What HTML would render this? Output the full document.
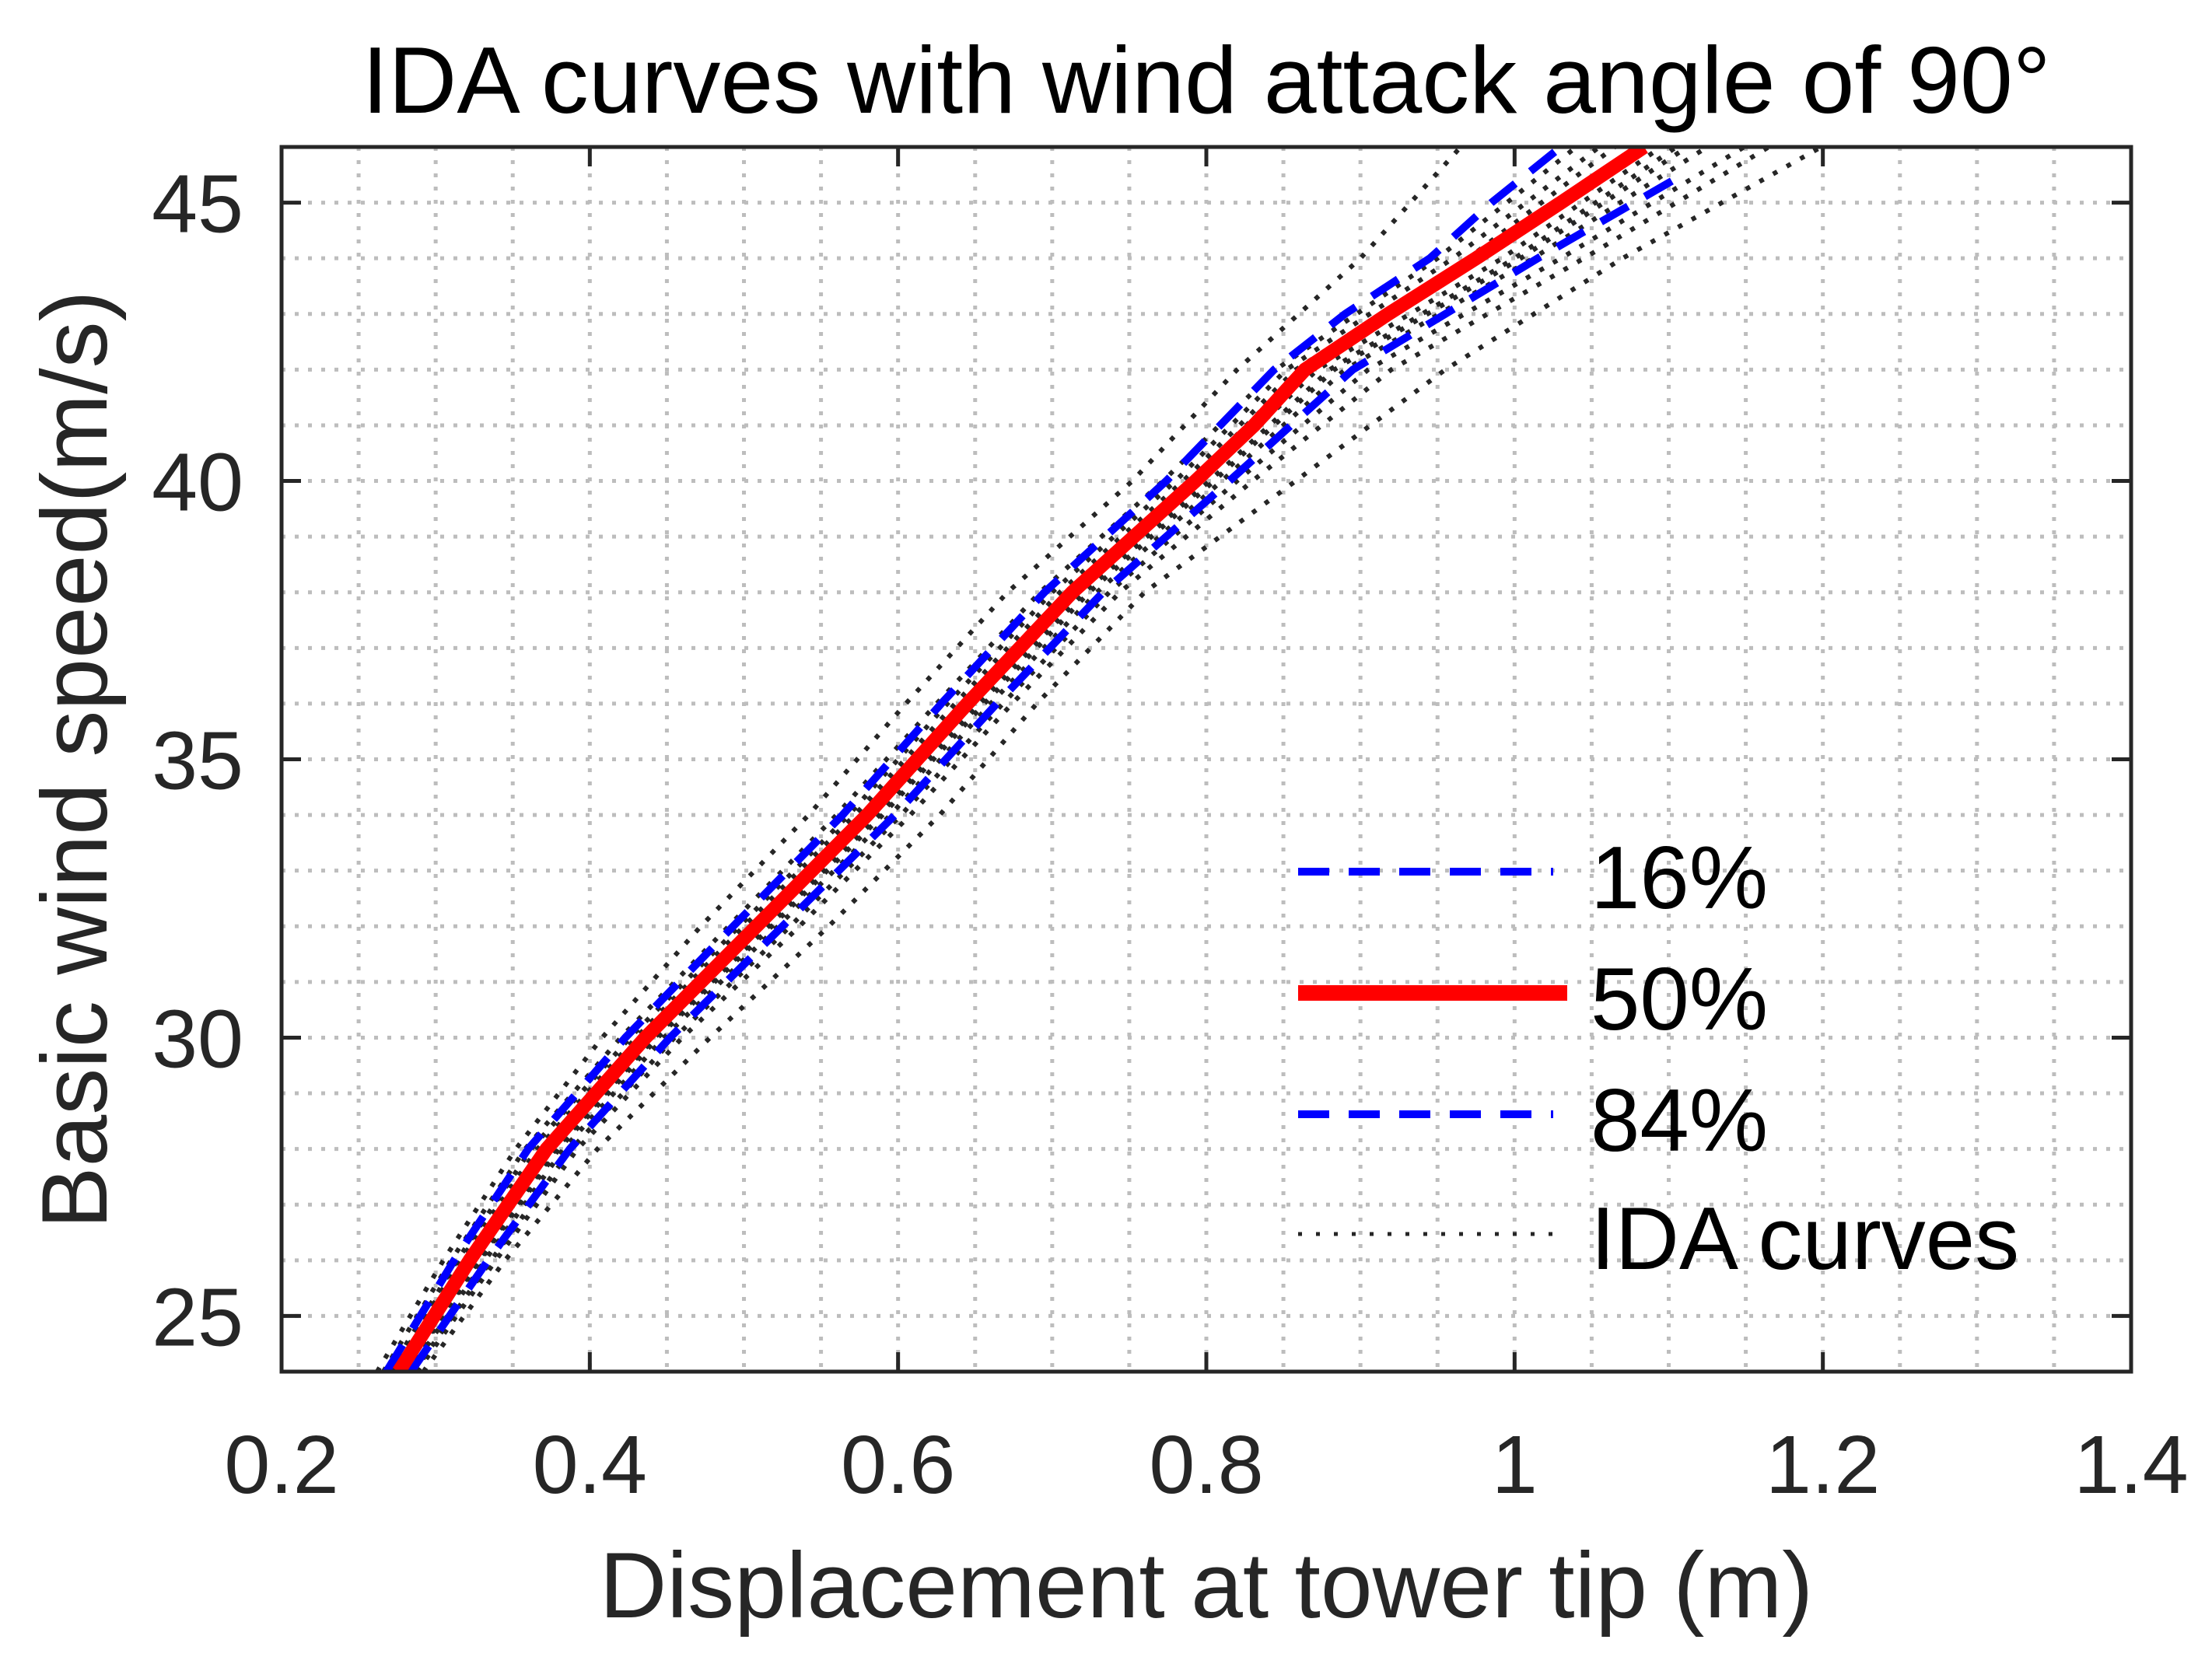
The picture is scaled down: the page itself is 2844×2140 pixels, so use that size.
<!DOCTYPE html>
<html><head><meta charset="utf-8"><style>
html,body{margin:0;padding:0;background:#fff}
svg{display:block}
text{font-family:"Liberation Sans",Arial,sans-serif}
</style></head><body>
<svg id="chart" width="2844" height="2140" viewBox="0 0 2844 2140" xmlns="http://www.w3.org/2000/svg">
<rect x="0" y="0" width="2844" height="2140" fill="#fff"/>
<text x="1551" y="145" font-size="122" text-anchor="middle" fill="#000">IDA curves with wind attack angle of 90°</text>
<g id="grid"></g>
<g id="series"></g>
<g id="axes"></g>
<text x="1551" y="2080" font-size="120" text-anchor="middle" fill="#262626">Displacement at tower tip (m)</text>
<text transform="translate(137,977) rotate(-90)" font-size="120" text-anchor="middle" fill="#262626">Basic wind speed(m/s)</text>
<g>
<g>
<line x1="1669" y1="1121" x2="1997" y2="1121" stroke="#0000ff" stroke-width="10" stroke-dasharray="40 25"/>
<text x="2045" y="1168" font-size="114" fill="#000">16%</text></g>
<g>
<line x1="1669" y1="1277" x2="2015" y2="1277" stroke="#ff0000" stroke-width="20"/>
<text x="2045" y="1324" font-size="114" fill="#000">50%</text></g>
<g>
<line x1="1669" y1="1433" x2="1997" y2="1433" stroke="#0000ff" stroke-width="10" stroke-dasharray="40 25"/>
<text x="2045" y="1480" font-size="114" fill="#000">84%</text></g>
<g>
<line x1="1669" y1="1587" x2="1997" y2="1587" stroke="#262626" stroke-width="5" stroke-dasharray="5 18"/>
<text x="2045" y="1632" font-size="114" fill="#000">IDA curves</text></g>
</g>
</svg>
<script>
const xTicks=[0.2,0.4,0.6,0.8,1,1.2,1.4];
const xTickLabels=["0.2","0.4","0.6","0.8","1","1.2","1.4"];
const yTicks=[25,30,35,40,45];
const yTickLabels=["25","30","35","40","45"];
const speeds=[24,26,28,30,32,34,36,38,40,42,44,46];
const medianSpeeds=[24,26,28,30,32,34,36,38,40,41,42,43,44,45,46];
const median=[0.276,0.322,0.372,0.436,0.508,0.580,0.645,0.713,0.793,0.831,0.864,0.918,0.975,1.030,1.084];
const p16Speeds=[24,26,28,30,32,34,36,38,40,42,43,44,45,46];
const p16=[0.268,0.312,0.360,0.423,0.493,0.564,0.628,0.695,0.774,0.844,0.890,0.945,0.985,1.030];
const p84Speeds=[24,26,28,30,32,34,36,38,40,42,44,45.5];
const p84=[0.284,0.334,0.387,0.452,0.525,0.598,0.664,0.733,0.815,0.895,1.015,1.109];
const idaA=[0.262,0.305,0.352,0.408,0.472,0.542,0.605,0.671,0.752,0.820,0.900,0.965];
const idaB=[0.266,0.310,0.358,0.420,0.490,0.560,0.625,0.692,0.772,0.845,0.950,1.040];
const idaC=[0.272,0.316,0.366,0.430,0.500,0.572,0.637,0.705,0.785,0.858,0.970,1.065];
const idaD=[0.280,0.328,0.378,0.442,0.516,0.588,0.653,0.721,0.802,0.880,1.000,1.105];
const idaE=[0.286,0.336,0.388,0.455,0.530,0.602,0.668,0.737,0.820,0.905,1.030,1.149];
const idaF=[0.292,0.345,0.405,0.478,0.555,0.627,0.690,0.760,0.858,0.955,1.070,1.199];
const idaG=[0.277,0.324,0.375,0.439,0.512,0.584,0.649,0.717,0.797,0.872,0.992,1.095];
const idaH=[0.283,0.332,0.383,0.448,0.522,0.595,0.660,0.729,0.810,0.890,1.012,1.125];
const idaI=[0.270,0.314,0.362,0.426,0.497,0.568,0.632,0.700,0.780,0.852,0.960,1.055];
const idaJ=[0.275,0.320,0.370,0.434,0.506,0.578,0.642,0.710,0.790,0.862,0.978,1.080];
const idaK=[0.281,0.329,0.380,0.444,0.518,0.590,0.656,0.724,0.805,0.883,1.004,1.112];
const idaL=[0.288,0.339,0.392,0.460,0.536,0.608,0.674,0.744,0.830,0.920,1.045,1.165];

const L=362,R=2740,T=189,B=1764,X0=0.2,X1=1.4,Y0=24,Y1=46;
function sx(v){return L+(v-X0)/(X1-X0)*(R-L);}
function sy(v){return B-(v-Y0)/(Y1-Y0)*(B-T);}
const NS="http://www.w3.org/2000/svg";
function mk(tag,attrs,parent){const e=document.createElementNS(NS,tag);for(const k in attrs)e.setAttribute(k,attrs[k]);parent.appendChild(e);return e;}
const grid=document.getElementById('grid'),series=document.getElementById('series'),axes=document.getElementById('axes');
for(let i=1;i<24;i++){const v=0.2+i*0.05;const x=sx(v);
 const g=mk('line',{x1:x,y1:T,x2:x,y2:B,stroke:'#bdbdbd','stroke-width':5,'stroke-dasharray':'5 12'},grid);
 
 }
for(let v=25;v<46;v++){const y=sy(v);
 const g=mk('line',{x1:L,y1:y,x2:R,y2:y,stroke:'#bdbdbd','stroke-width':5,'stroke-dasharray':'5 12'},grid);
 
 }
function poly(xs,ys,attrs,name){const pts=xs.map((x,i)=>sx(x).toFixed(1)+','+sy(ys[i]).toFixed(1)).join(' ');
 const p=mk('polyline',Object.assign({points:pts,fill:'none','stroke-linejoin':'round'},attrs),series);
 
 return p;}
const cp=mk('clipPath',{id:'clip'},series);mk('rect',{x:L,y:T,width:R-L,height:B-T},cp);
series.setAttribute('clip-path','url(#clip)');
[idaA,idaB,idaC,idaD,idaE,idaF,idaG,idaH,idaI,idaJ,idaK,idaL].forEach((c,i)=>poly(c,speeds,{stroke:'#262626','stroke-width':6,'stroke-dasharray':'6 14'},'ida-curve-'+(i+1)));
poly(p16,p16Speeds,{stroke:'#0000ff','stroke-width':10,'stroke-dasharray':'40 25'},'p16-line');
poly(p84,p84Speeds,{stroke:'#0000ff','stroke-width':10,'stroke-dasharray':'40 25'},'p84-line');
poly(median,medianSpeeds,{stroke:'#ff0000','stroke-width':18},'median-line');
const frame=mk('rect',{x:L,y:T,width:R-L,height:B-T,fill:'none',stroke:'#262626','stroke-width':5},axes);


xTicks.forEach((v,i)=>{const x=sx(v);
 mk('line',{x1:x,y1:B,x2:x,y2:B-25,stroke:'#262626','stroke-width':5},axes);
 mk('line',{x1:x,y1:T,x2:x,y2:T+25,stroke:'#262626','stroke-width':5},axes);
 const t=mk('text',{x:x,y:1920,'font-size':106,'text-anchor':'middle',fill:'#262626'},axes);t.textContent=xTickLabels[i];
 
 });
yTicks.forEach((v,i)=>{const y=sy(v);
 mk('line',{x1:L,y1:y,x2:L+25,y2:y,stroke:'#262626','stroke-width':5},axes);
 mk('line',{x1:R,y1:y,x2:R-25,y2:y,stroke:'#262626','stroke-width':5},axes);
 const t=mk('text',{x:313,y:y+38,'font-size':106,'text-anchor':'end',fill:'#262626'},axes);t.textContent=yTickLabels[i];
 
 });
</script>
</body></html>
